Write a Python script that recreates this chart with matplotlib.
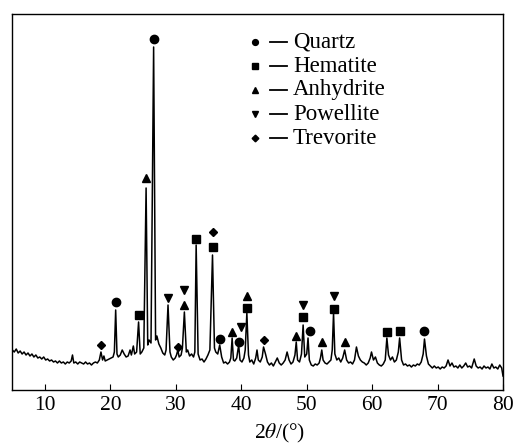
import matplotlib
matplotlib.use("Agg")
import matplotlib.pyplot as plt

plt.rcParams['font.family'] = ['Liberation Serif', 'DejaVu Serif']
plt.rcParams['mathtext.fontset'] = 'stix'

# Traced XRD pattern (2theta in degrees, intensity in arbitrary units)
two_theta = [
    5.0, 5.3, 5.6, 5.9, 6.2, 6.5, 6.8, 7.1, 7.4, 7.7, 8.0, 8.3, 8.6, 8.9, 9.2, 9.5, 9.8,
    10.1, 10.4, 10.7, 11.0, 11.3, 11.6, 11.9, 12.2, 12.5, 12.8, 13.1, 13.4, 13.7, 14.0,
    14.2, 14.4, 14.7, 15.0, 15.3, 15.6, 15.9, 16.2, 16.5, 16.8, 17.1, 17.4, 17.7, 18.0,
    18.3, 18.55, 18.8, 19.0, 19.2, 19.5, 19.8, 20.1, 20.4, 20.6, 20.8, 21.0, 21.2, 21.5,
    21.8, 22.1, 22.4, 22.7, 23.0, 23.2, 23.5, 23.7, 24.0, 24.3, 24.55, 24.8, 25.1, 25.45,
    25.7, 25.9, 26.2, 26.6, 26.9, 27.1, 27.4, 27.7, 28.0, 28.3, 28.5, 28.8, 29.1, 29.3,
    29.6, 29.9, 30.1, 30.3, 30.5, 30.8, 31.0, 31.3, 31.6, 31.8, 32.1, 32.4, 32.7, 32.9,
    33.1, 33.4, 33.7, 34.0, 34.3, 34.6, 34.9, 35.2, 35.6, 35.9, 36.1, 36.4, 36.7, 37.0,
    37.3, 37.6, 37.9, 38.2, 38.4, 38.6, 38.8, 39.0, 39.3, 39.6, 39.8, 40.1, 40.4, 40.6,
    40.85, 41.1, 41.3, 41.6, 41.9, 42.2, 42.4, 42.6, 42.9, 43.2, 43.4, 43.7, 44.0, 44.3,
    44.6, 44.9, 45.2, 45.5, 45.8, 46.1, 46.4, 46.7, 47.0, 47.3, 47.6, 47.9, 48.2, 48.4,
    48.6, 48.9, 49.2, 49.45, 49.7, 50.0, 50.2, 50.4, 50.7, 51.0, 51.3, 51.6, 51.9, 52.1,
    52.3, 52.5, 52.8, 53.1, 53.4, 53.7, 53.9, 54.1, 54.3, 54.6, 54.9, 55.2, 55.5, 55.8,
    56.1, 56.4, 56.7, 57.0, 57.3, 57.6, 57.9, 58.2, 58.5, 58.8, 59.1, 59.4, 59.7, 59.9,
    60.2, 60.5, 60.8, 61.1, 61.4, 61.7, 62.0, 62.25, 62.5, 62.8, 63.1, 63.4, 63.7, 64.0,
    64.2, 64.5, 64.8, 65.1, 65.4, 65.7, 66.0, 66.3, 66.6, 66.9, 67.2, 67.5, 67.8, 68.0,
    68.3, 68.6, 68.9, 69.2, 69.5, 69.8, 70.1, 70.4, 70.7, 71.0, 71.3, 71.6, 71.9, 72.2,
    72.5, 72.8, 73.1, 73.4, 73.7, 74.0, 74.3, 74.6, 74.9, 75.2, 75.6, 75.9, 76.2, 76.5,
    76.8, 77.1, 77.4, 77.7, 78.0, 78.3, 78.6, 78.9, 79.2, 79.5, 79.8, 80.0,
]
intensity = [
    40, 38, 41, 37, 39, 36, 38, 35, 37, 34, 36, 33, 35, 32, 33, 31, 33,
    30, 31, 29, 30, 28, 29, 27, 29, 27, 28, 26, 28, 27, 29,
    35, 27, 28, 26, 28, 27, 26, 28, 26, 27, 25, 27, 28, 27,
    30, 38, 30, 34, 29, 30, 31, 32, 33, 38, 80, 36, 33, 35,
    40, 36, 33, 34, 40, 35, 44, 36, 38, 68, 36, 38, 42, 202,
    45, 50, 47, 343, 50, 54, 46, 42, 37, 35, 40, 85, 38, 33,
    30, 32, 35, 40, 33, 35, 42, 78, 38, 40, 34, 36, 33, 38,
    145, 36, 30, 31, 28, 31, 35, 40, 135, 42, 38, 36, 45, 33,
    27, 28, 26, 28, 32, 52, 30, 29, 32, 45, 30, 28, 32, 40,
    77, 35, 28, 30, 26, 32, 40, 30, 28, 33, 43, 36, 28, 25,
    27, 24, 28, 32, 27, 25, 27, 30, 38, 30, 26, 28, 35, 48,
    30, 28, 36, 65, 33, 36, 52, 30, 25, 24, 26, 25, 27, 32,
    40, 30, 27, 26, 28, 30, 40, 77, 36, 30, 32, 28, 32, 40,
    30, 27, 28, 26, 30, 43, 34, 30, 28, 27, 25, 27, 32, 38,
    30, 33, 27, 25, 24, 26, 30, 52, 35, 30, 33, 28, 30, 38,
    52, 30, 25, 26, 24, 25, 23, 25, 24, 26, 25, 28, 36, 51,
    34, 26, 24, 22, 24, 22, 23, 21, 23, 22, 24, 30, 24, 27,
    23, 24, 22, 25, 22, 24, 27, 23, 24, 22, 31, 24, 22, 23,
    21, 24, 22, 23, 21, 26, 22, 23, 21, 25, 22, 14,
]

# Phase markers (x position, marker height)
quartz_x = [20.8, 26.6, 36.75, 39.6, 50.5, 68.0]
quartz_y = [88, 351, 51, 48, 59, 59]
hematite_x = [24.3, 33.1, 35.6, 40.85, 49.45, 54.1, 62.25, 64.2]
hematite_y = [75, 151, 143, 82, 73, 81, 58, 59]
anhydrite_x = [25.45, 31.3, 38.6, 40.85, 48.4, 52.3, 55.8]
anhydrite_y = [212, 85, 58, 94, 54, 48, 48]
powellite_x = [28.8, 31.3, 39.9, 49.45, 54.1]
powellite_y = [92, 100, 63, 85, 94]
trevorite_x = [18.55, 30.3, 35.6, 43.4]
trevorite_y = [45, 43, 158, 50]

phase_names = ['Quartz', 'Hematite', 'Anhydrite', 'Powellite', 'Trevorite']
phase_markers = ['o', 's', '^', 'v', 'D']

W, H = 516, 446
fig = plt.figure(figsize=(W / 100, H / 100), dpi=100)
ax_l, ax_r, ax_t, ax_b = 12.3, 503, 14, 390
ax = fig.add_axes([ax_l / W, 1 - ax_b / H, (ax_r - ax_l) / W, (ax_b - ax_t) / H])

ax.plot(two_theta, intensity, color='black', lw=1.1)

msizes = [6.0, 5.2, 5.6, 5.6, 4.2]
series = [(quartz_x, quartz_y), (hematite_x, hematite_y), (anhydrite_x, anhydrite_y),
          (powellite_x, powellite_y), (trevorite_x, trevorite_y)]
for (xs, ys), m, ms in zip(series, phase_markers, msizes):
    ax.plot(xs, ys, linestyle='none', marker=m, color='black', markersize=ms)

ax.set_xlim(5, 80)
ax.set_ylim(0, 376)
ax.set_xticks([10, 20, 30, 40, 50, 60, 70, 80])
ax.set_yticks([])
ax.tick_params(axis='x', direction='in', length=4, width=0.8, pad=4,
               labelsize=15.5, top=False)
for s in ax.spines.values():
    s.set_linewidth(1.0)

# legend (custom, as in the figure)
leg_y = [42, 66, 90, 114, 138]
leg_ms = [4.2, 4.0, 4.4, 4.4, 3.4]
for name, m, yp, ms in zip(phase_names, phase_markers, leg_y, leg_ms):
    fy = 1 - yp / H
    fig.lines.append(plt.Line2D([255 / W], [fy], marker=m, color='black',
                                markersize=ms, linestyle='none',
                                transform=fig.transFigure))
    fig.lines.append(plt.Line2D([270 / W, 287 / W], [fy, fy], color='black',
                                lw=1.3, transform=fig.transFigure))
    fig.text(293 / W, fy, name, fontsize=16.5, ha='left', va='center')

fig.text(280 / W, 1 - 433 / H, r'2$\theta$/(°)', fontsize=15.5,
         ha='center', va='center')

fig.savefig('out.png', dpi=100)
